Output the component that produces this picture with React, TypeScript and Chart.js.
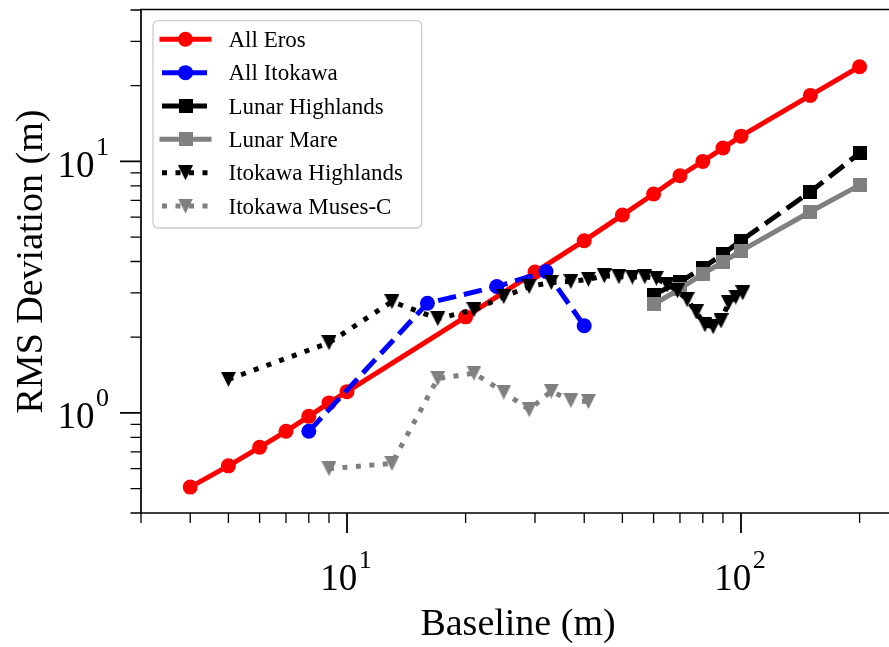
import React, { useEffect, useRef } from 'react';
import { Chart, registerables } from 'chart.js';

Chart.register(...registerables);

// ---- data ----
const erosX = [4, 5, 6, 7, 8, 9, 10, 20, 30, 40, 50, 60, 70, 80, 90, 100, 150, 200];
const erosY = [0.507, 0.616, 0.730, 0.845, 0.969, 1.096, 1.215, 2.41, 3.63, 4.84, 6.12, 7.42, 8.77, 10.0, 11.3, 12.6, 18.3, 23.8];

const itokawaX = [8, 16, 24, 32, 40];
const itokawaY = [0.845, 2.73, 3.18, 3.65, 2.22];

const lunarX = [60, 70, 80, 90, 100, 150, 200];
const lunarHighY = [2.95, 3.32, 3.77, 4.29, 4.84, 7.57, 10.8];
const lunarMareY = [2.70, 3.11, 3.57, 3.98, 4.41, 6.31, 8.05];

const itoHighX = [5, 9, 13, 17, 21, 25, 29, 33, 37, 41, 45, 49, 53, 57, 61, 65, 69, 73, 77, 81, 85, 89, 93, 97, 101];
const itoHighY = [1.36, 1.90, 2.77, 2.37, 2.57, 2.90, 3.18, 3.30, 3.33, 3.40, 3.51, 3.48, 3.47, 3.48, 3.43, 3.23, 3.06, 2.82, 2.52, 2.24, 2.20, 2.32, 2.74, 2.89, 3.00];

const musesX = [9, 13, 17, 21, 25, 29, 33, 37, 41];
const musesY = [0.60, 0.63, 1.37, 1.44, 1.21, 1.03, 1.22, 1.12, 1.11];

const seriesLabels = ['All Eros', 'All Itokawa', 'Lunar Highlands', 'Lunar Mare', 'Itokawa Highlands', 'Itokawa Muses-C'];

// ---- axes ----
const xMin = 3;
const xMax = 237.5;
const yMin = 0.4;
const yMax = 40;
const xMajorTicks = [10, 100];
const xMajorExp = ['1', '2'];
const xMinorTicks = [3, 4, 5, 6, 7, 8, 9, 20, 30, 40, 50, 60, 70, 80, 90, 200];
const yMajorTicks = [1, 10];
const yMajorExp = ['0', '1'];
const yMinorTicks = [0.4, 0.5, 0.6, 0.7, 0.8, 0.9, 2, 3, 4, 5, 6, 7, 8, 9, 20, 30, 40];
const xTitle = 'Baseline (m)';
const yTitle = 'RMS Deviation (m)';

const FONT = '"Liberation Serif", "Times New Roman", serif';

function makeSquare(color: string, side: number) {
  const c = document.createElement('canvas');
  c.width = side;
  c.height = side;
  const g = c.getContext('2d')!;
  g.fillStyle = color;
  g.fillRect(0, 0, side, side);
  return c;
}

function makeTriDown(color: string, size: number) {
  const c = document.createElement('canvas');
  c.width = size;
  c.height = size;
  const g = c.getContext('2d')!;
  g.fillStyle = color;
  g.beginPath();
  g.moveTo(0, 0);
  g.lineTo(size, 0);
  g.lineTo(size / 2, size);
  g.closePath();
  g.fill();
  return c;
}

const toPts = (xs: number[], ys: number[]) => xs.map((x, i) => ({ x, y: ys[i] }));

const decorPlugin = {
  id: 'decor',
  afterDraw(chart: any) {
    const { ctx, chartArea: a, scales } = chart;
    const xs = scales.x;
    const ys = scales.y;
    ctx.save();
    ctx.fillStyle = '#000';
    ctx.strokeStyle = '#000';

    // spines
    ctx.lineWidth = 1.7;
    ctx.lineCap = 'butt';
    ctx.beginPath();
    ctx.moveTo(a.left, a.top);
    ctx.lineTo(a.left, a.bottom);
    ctx.moveTo(a.left - 1, a.bottom);
    ctx.lineTo(a.right + 2, a.bottom);
    ctx.moveTo(a.left - 1, a.top - 0.5);
    ctx.lineTo(a.right + 2, a.top - 0.5);
    ctx.stroke();

    // ticks
    ctx.lineWidth = 1.8;
    ctx.beginPath();
    xMajorTicks.forEach((v) => {
      const p = xs.getPixelForValue(v);
      ctx.moveTo(p, a.bottom);
      ctx.lineTo(p, a.bottom + 20);
    });
    yMajorTicks.forEach((v) => {
      const p = ys.getPixelForValue(v);
      ctx.moveTo(a.left, p);
      ctx.lineTo(a.left - 21, p);
    });
    ctx.stroke();
    ctx.lineWidth = 1.3;
    ctx.beginPath();
    xMinorTicks.forEach((v) => {
      const p = xs.getPixelForValue(v);
      ctx.moveTo(p, a.bottom);
      ctx.lineTo(p, a.bottom + 10);
    });
    yMinorTicks.forEach((v) => {
      const p = ys.getPixelForValue(v);
      ctx.moveTo(a.left, p);
      ctx.lineTo(a.left - 10.5, p);
    });
    ctx.stroke();

    // tick labels 10^n
    const mainFont = '37px ' + FONT;
    const supFont = '26px ' + FONT;
    ctx.textBaseline = 'alphabetic';
    ctx.textAlign = 'left';
    const drawPow = (xLeft: number, base: number, exp: string) => {
      ctx.font = mainFont;
      ctx.fillText('10', xLeft, base);
      const w = ctx.measureText('10').width;
      ctx.font = supFont;
      ctx.fillText(exp, xLeft + w + 1.5, base - 22);
    };
    const powWidth = (exp: string) => {
      ctx.font = mainFont;
      const w1 = ctx.measureText('10').width;
      ctx.font = supFont;
      const w2 = ctx.measureText(exp).width;
      return w1 + 1.5 + w2;
    };
    xMajorTicks.forEach((v, i) => {
      const p = xs.getPixelForValue(v);
      const w = powWidth(xMajorExp[i]);
      drawPow(p - 1 - w / 2, a.bottom + 77, xMajorExp[i]);
    });
    yMajorTicks.forEach((v, i) => {
      const p = ys.getPixelForValue(v);
      const w = powWidth(yMajorExp[i]);
      drawPow(109 - w, p + 15.3, yMajorExp[i]);
    });

    // axis titles
    ctx.font = '38px ' + FONT;
    ctx.textAlign = 'center';
    ctx.fillText(xTitle, 518, 635);
    ctx.save();
    ctx.translate(41.7, (a.top + a.bottom) / 2);
    ctx.rotate(-Math.PI / 2);
    ctx.fillText(yTitle, 0, 0);
    ctx.restore();

    // legend
    const lx = 153, ly = 20.7, lw = 268.7, lh = 207.3;
    ctx.beginPath();
    ctx.roundRect(lx, ly, lw, lh, 5);
    ctx.fillStyle = 'rgba(255,255,255,0.8)';
    ctx.fill();
    ctx.strokeStyle = '#cccccc';
    ctx.lineWidth = 1.3;
    ctx.stroke();

    const dsets = chart.data.datasets;
    dsets.forEach((ds: any, i: number) => {
      const cy = 39.3 + i * 33.35;
      ctx.save();
      ctx.strokeStyle = ds.borderColor;
      ctx.lineWidth = ds.borderWidth;
      ctx.lineCap = ds.borderCapStyle || 'butt';
      ctx.setLineDash(ds.borderDash || []);
      ctx.beginPath();
      ctx.moveTo(162, cy);
      ctx.lineTo(209, cy);
      ctx.stroke();
      ctx.setLineDash([]);
      const st = ds.pointStyle;
      if (st && typeof st === 'object') {
        ctx.drawImage(st, 185.5 - st.width / 2, cy - st.height / 2);
      } else {
        ctx.fillStyle = ds.pointBackgroundColor;
        ctx.beginPath();
        ctx.arc(185.5, cy, ds.pointRadius, 0, Math.PI * 2);
        ctx.fill();
      }
      ctx.restore();
      ctx.fillStyle = '#000';
      ctx.font = '23px ' + FONT;
      ctx.textAlign = 'left';
      ctx.fillText(ds.label, 228.5, cy + 7.6);
    });

    ctx.restore();
  },
};

export default function App() {
  const ref = useRef<HTMLCanvasElement | null>(null);

  useEffect(() => {
    document.body.style.margin = '0';
    const canvas = ref.current;
    if (!canvas) return;

    const blackSq = makeSquare('#000000', 14);
    const graySq = makeSquare('#808080', 14);
    const blackTri = makeTriDown('#000000', 15);
    const grayTri = makeTriDown('#808080', 15);

    const common = {
      showLine: true,
      fill: false,
      tension: 0,
      borderWidth: 5,
      borderJoinStyle: 'round',
      pointBorderWidth: 0,
      pointRadius: 7.5,
      pointHoverRadius: 7.5,
    };

    const datasets: any[] = [
      {
        ...common,
        label: seriesLabels[0],
        data: toPts(erosX, erosY),
        borderColor: '#ff0000',
        backgroundColor: '#ff0000',
        pointBackgroundColor: '#ff0000',
        borderDash: [],
        borderCapStyle: 'square',
        pointStyle: 'circle',
        order: 6,
      },
      {
        ...common,
        label: seriesLabels[1],
        data: toPts(itokawaX, itokawaY),
        borderColor: '#0000ff',
        backgroundColor: '#0000ff',
        pointBackgroundColor: '#0000ff',
        borderDash: [18.5, 8],
        borderCapStyle: 'butt',
        pointStyle: 'circle',
        order: 5,
      },
      {
        ...common,
        label: seriesLabels[2],
        data: toPts(lunarX, lunarHighY),
        borderColor: '#000000',
        backgroundColor: '#000000',
        pointBackgroundColor: '#000000',
        borderDash: [18.5, 8],
        borderCapStyle: 'butt',
        pointStyle: blackSq,
        order: 4,
      },
      {
        ...common,
        label: seriesLabels[3],
        data: toPts(lunarX, lunarMareY),
        borderColor: '#808080',
        backgroundColor: '#808080',
        pointBackgroundColor: '#808080',
        borderDash: [],
        borderCapStyle: 'square',
        pointStyle: graySq,
        order: 3,
      },
      {
        ...common,
        label: seriesLabels[4],
        data: toPts(itoHighX, itoHighY),
        borderColor: '#000000',
        backgroundColor: '#000000',
        pointBackgroundColor: '#000000',
        borderDash: [5, 8.5],
        borderCapStyle: 'butt',
        pointStyle: blackTri,
        order: 2,
      },
      {
        ...common,
        label: seriesLabels[5],
        data: toPts(musesX, musesY),
        borderColor: '#808080',
        backgroundColor: '#808080',
        pointBackgroundColor: '#808080',
        borderDash: [5, 8.5],
        borderCapStyle: 'butt',
        pointStyle: grayTri,
        order: 1,
      },
    ];

    const chart = new Chart(canvas, {
      type: 'scatter',
      data: { datasets },
      plugins: [decorPlugin],
      options: {
        animation: false,
        responsive: false,
        devicePixelRatio: 1,
        events: [],
        layout: { autoPadding: false, padding: { top: 10, left: 0, right: 0, bottom: 0 } },
        plugins: {
          legend: { display: false },
          tooltip: { enabled: false },
          title: { display: false },
        },
        scales: {
          x: {
            type: 'logarithmic',
            min: xMin,
            max: xMax,
            grid: { display: false },
            border: { display: false },
            ticks: { display: false },
            afterFit: (s: any) => {
              s.height = 134;
            },
          },
          y: {
            type: 'logarithmic',
            min: yMin,
            max: yMax,
            grid: { display: false },
            border: { display: false },
            ticks: { display: false },
            afterFit: (s: any) => {
              s.width = 141;
            },
          },
        },
      } as any,
    });

    return () => {
      chart.destroy();
    };
  }, []);

  return (
    <div style={{ position: 'absolute', left: 0, top: 0, width: 889, height: 647, background: '#fff' }}>
      <canvas ref={ref} width={889} height={647} style={{ display: 'block' }} />
    </div>
  );
}
